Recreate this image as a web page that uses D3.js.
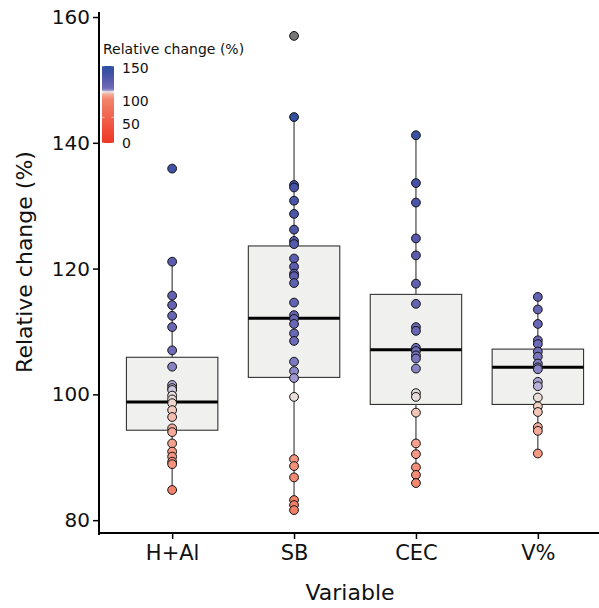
<!DOCTYPE html>
<html>
<head>
<meta charset="utf-8">
<script src="https://cdn.jsdelivr.net/npm/d3@7"></script>
<style>
  html, body { margin: 0; padding: 0; background: #ffffff; }
  svg { display: block; font-family: "DejaVu Sans", sans-serif; }
</style>
</head>
<body>
<svg id="chart" width="599" height="608"></svg>
<script>
// ---------------- data ----------------
const categories = ["H+Al", "SB", "CEC", "V%"];

const valuesHAl = [135.9, 121.1, 115.7, 114.2, 112.5, 110.7, 107.0, 104.4, 101.5, 101.0, 100.7,
  99.8, 99.2, 98.6, 97.5, 96.4, 94.6, 94.0, 92.2, 90.9, 90.1, 89.3, 88.9, 84.8];
const valuesSB = [157.0, 144.1, 133.3, 132.9, 130.8, 128.7, 126.2, 124.4, 123.9, 121.6, 120.3,
  119.2, 118.8, 117.7, 114.6, 112.6, 112.0, 111.2, 109.7, 108.5, 105.2, 103.7, 102.6, 99.6,
  89.7, 88.6, 86.8, 83.2, 82.4, 81.6];
const valuesCEC = [141.2, 133.6, 130.5, 124.8, 122.1, 117.6, 114.4, 110.7, 110.1, 107.4, 106.9,
  106.2, 105.7, 104.1, 100.2, 99.6, 97.1, 92.2, 90.5, 88.4, 87.2, 85.9];
const valuesV = [115.5, 113.5, 111.2, 108.6, 108.0, 106.8, 106.0, 104.9, 104.3, 104.0, 102.0,
  101.3, 99.5, 98.1, 97.2, 94.8, 94.2, 90.6];
const seriesValues = [valuesHAl, valuesSB, valuesCEC, valuesV];

const boxQ1 = [94.3, 102.7, 98.4, 98.4];
const boxMedian = [98.8, 112.1, 107.1, 104.3];
const boxQ3 = [105.9, 123.6, 115.9, 107.2];
const whiskerLow = [84.8, 81.6, 85.9, 90.6];
const whiskerHigh = [121.1, 144.1, 141.2, 115.5];

const yTicks = [80, 100, 120, 140, 160];
const legendTicks = [0, 50, 100, 150];
const colourStops = [0, 85, 90, 95, 98, 100, 101.5, 104, 107, 120, 135, 150];
const colourValues = ["#ee3524", "#f1836a", "#f59682", "#f5ae9d", "#f2cfc4", "#e6e2e1",
  "#b2aad7", "#8884c5", "#6e6cb8", "#5d5dae", "#4152a5", "#2c4f9f"];

// ---------------- layout ----------------
const svg = d3.select("#chart");
const panel = { left: 99, right: 611, top: 12, bottom: 534 };

const x = d3.scalePoint().domain(categories).range([panel.left, panel.right]).padding(0.6);
const y = d3.scaleLinear().domain([77.8, 160.8]).range([panel.bottom, panel.top]);
const boxWidth = x.step() * 0.75;

const fill = d3.scaleLinear().domain(colourStops).range(colourValues)
  .interpolate(d3.interpolateRgb).clamp(false);
const colourOf = v => (v > 150 || v < 0) ? "#767676" : fill(v);

const boxes = categories.map((c, i) => ({
  cat: c, q1: boxQ1[i], med: boxMedian[i], q3: boxQ3[i], lo: whiskerLow[i], hi: whiskerHigh[i]
}));

// whiskers
const g = svg.append("g");
g.selectAll("line.whisker-up").data(boxes).join("line")
  .attr("x1", d => x(d.cat)).attr("x2", d => x(d.cat))
  .attr("y1", d => y(d.q3)).attr("y2", d => y(d.hi))
  .attr("stroke", "#333").attr("stroke-width", 1.1);
g.selectAll("line.whisker-dn").data(boxes).join("line")
  .attr("x1", d => x(d.cat)).attr("x2", d => x(d.cat))
  .attr("y1", d => y(d.q1)).attr("y2", d => y(d.lo))
  .attr("stroke", "#333").attr("stroke-width", 1.1);

// boxes
g.selectAll("rect.box").data(boxes).join("rect")
  .attr("x", d => x(d.cat) - boxWidth / 2)
  .attr("y", d => y(d.q3))
  .attr("width", boxWidth)
  .attr("height", d => y(d.q1) - y(d.q3))
  .attr("fill", "#f0f0ee").attr("stroke", "#333").attr("stroke-width", 1.1);
g.selectAll("line.median").data(boxes).join("line")
  .attr("x1", d => x(d.cat) - boxWidth / 2).attr("x2", d => x(d.cat) + boxWidth / 2)
  .attr("y1", d => y(d.med)).attr("y2", d => y(d.med))
  .attr("stroke", "#000").attr("stroke-width", 3);

// points
const pts = [];
categories.forEach((c, i) => seriesValues[i].forEach(v => pts.push({ cat: c, v })));
g.selectAll("circle.pt").data(pts).join("circle")
  .attr("cx", d => x(d.cat)).attr("cy", d => y(d.v)).attr("r", 4.4)
  .attr("fill", d => colourOf(d.v)).attr("stroke", "#111").attr("stroke-width", 1);

// axes
const yAxis = d3.axisLeft(y).tickValues(yTicks).tickSize(6).tickPadding(3);
const yg = svg.append("g").attr("transform", `translate(${panel.left},0)`).call(yAxis);
yg.select(".domain").remove();
yg.append("line").attr("x1", 0).attr("x2", 0).attr("y1", panel.top).attr("y2", panel.bottom + 1)
  .attr("stroke", "#000").attr("stroke-width", 2);
yg.selectAll(".tick line").attr("stroke", "#000").attr("stroke-width", 1.5);
yg.selectAll(".tick text").attr("font-size", 20).attr("fill", "#111")
  .attr("font-family", "DejaVu Sans");

const xAxis = d3.axisBottom(x).tickSize(6).tickPadding(6);
const xg = svg.append("g").attr("transform", `translate(0,${panel.bottom - 1})`).call(xAxis);
xg.select(".domain").remove();
xg.append("line").attr("x1", panel.left - 1).attr("x2", panel.right).attr("y1", 0).attr("y2", 0)
  .attr("stroke", "#000").attr("stroke-width", 2);
xg.selectAll(".tick line").attr("stroke", "#000").attr("stroke-width", 1.5);
xg.selectAll(".tick text").attr("font-size", 21).attr("fill", "#111")
  .attr("font-family", "DejaVu Sans");

// axis titles
svg.append("text").attr("x", 350).attr("y", 600).attr("text-anchor", "middle")
  .attr("font-size", 22).attr("fill", "#111").text("Variable");
svg.append("text").attr("transform", "translate(32,262) rotate(-90)")
  .attr("text-anchor", "middle").attr("font-size", 22).attr("fill", "#111")
  .text("Relative change (%)");

// legend
const lg = svg.append("g");
lg.append("text").attr("x", 103).attr("y", 54).attr("font-size", 14).attr("fill", "#111")
  .text("Relative change (%)");
const legY = d3.scaleLinear().domain([0, 150]).range([143, 66]);
const defs = svg.append("defs");
const grad = defs.append("linearGradient").attr("id", "legGrad")
  .attr("x1", 0).attr("x2", 0).attr("y1", 1).attr("y2", 0);
d3.range(0, 151, 2).forEach(v => {
  grad.append("stop").attr("offset", v / 150).attr("stop-color", fill(v));
});
lg.append("rect").attr("x", 102).attr("y", legY(150)).attr("width", 12)
  .attr("height", legY(0) - legY(150)).attr("fill", "url(#legGrad)");
legendTicks.forEach(v => {
  lg.append("line").attr("x1", 102).attr("x2", 104.4).attr("y1", legY(v)).attr("y2", legY(v))
    .attr("stroke", "#fff").attr("stroke-width", 0.8).attr("opacity", 0.8);
  lg.append("line").attr("x1", 111.6).attr("x2", 114).attr("y1", legY(v)).attr("y2", legY(v))
    .attr("stroke", "#fff").attr("stroke-width", 0.8).attr("opacity", 0.8);
});
const labelY = d3.scaleLinear().domain([0, 50, 100, 150]).range([142.5, 124, 101, 67.5]);
lg.selectAll("text.leglab").data(legendTicks).join("text")
  .attr("x", 122).attr("y", d => labelY(d)).attr("dy", "0.36em")
  .attr("font-size", 14).attr("fill", "#111").text(d => d);
</script>
</body>
</html>
